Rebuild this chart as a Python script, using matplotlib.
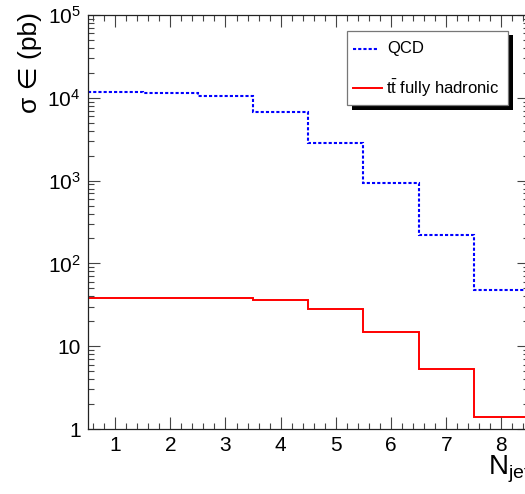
import matplotlib
matplotlib.use("Agg")
import matplotlib.pyplot as plt
import matplotlib.transforms as mtransforms
from matplotlib.ticker import MultipleLocator, LogLocator, FixedLocator, FixedFormatter, NullFormatter
from matplotlib.patches import Rectangle
from matplotlib.lines import Line2D

# Jet-multiplicity bins (edges at half-integers)
bin_edges = [0.5, 1.5, 2.5, 3.5, 4.5, 5.5, 6.5, 7.5, 8.5]
# Cross section x efficiency per jet-multiplicity bin (pb)
qcd_values = [11650, 11430, 10370, 6790, 2870, 935, 220, 47.7]
ttbar_values = [38.2, 38.0, 37.8, 35.8, 27.9, 14.9, 5.26, 1.40]

y_tick_values = [1, 10, 100, 1000, 10000, 100000]
y_tick_labels = ["1", "10", r"$10^{2}$", r"$10^{3}$", r"$10^{4}$", r"$10^{5}$"]
x_tick_values = [1, 2, 3, 4, 5, 6, 7, 8]
x_tick_labels = ["1", "2", "3", "4", "5", "6", "7", "8"]

series_labels = ["QCD", r"$\mathrm{t\bar{t}}$ fully hadronic"]

plt.rcParams["font.family"] = ["Liberation Sans", "DejaVu Sans"]
plt.rcParams["mathtext.fontset"] = "custom"
plt.rcParams["mathtext.rm"] = "Liberation Sans"
plt.rcParams["mathtext.it"] = "Liberation Sans:italic"
plt.rcParams["mathtext.bf"] = "Liberation Sans:bold"

W, H = 525, 494
fig = plt.figure(figsize=(W / 100, H / 100), dpi=100)

# Frame placed in pixel units; the right edge runs just past the canvas
left_px, right_px, top_px, bottom_px = 87.5, 529.0, 15.0, 429.0
ax = fig.add_axes([left_px / W, 1 - bottom_px / H,
                   (right_px - left_px) / W, (bottom_px - top_px) / H])

ax.stairs(qcd_values, bin_edges, baseline=None, color="#0000ff",
          linewidth=1.5, linestyle=(0, (1.5, 1.0)))
ax.stairs(ttbar_values, bin_edges, baseline=None, color="#ff0000",
          linewidth=1.4)

ax.set_yscale("log")
ax.set_xlim(bin_edges[0], bin_edges[-1])
ax.set_ylim(y_tick_values[0], y_tick_values[-1])

ax.xaxis.set_major_locator(FixedLocator(x_tick_values))
ax.xaxis.set_major_formatter(FixedFormatter(x_tick_labels))
ax.xaxis.set_minor_locator(MultipleLocator(0.2))
ax.yaxis.set_major_locator(FixedLocator(y_tick_values))
ax.yaxis.set_major_formatter(FixedFormatter(y_tick_labels))
ax.yaxis.set_minor_locator(LogLocator(base=10, subs=range(2, 10), numticks=20))
ax.yaxis.set_minor_formatter(NullFormatter())

for s in ax.spines.values():
    s.set_linewidth(0.9)
    s.set_color("#222222")

ax.tick_params(which="both", direction="in", top=True, right=True,
               color="#444444", width=0.8)
ax.tick_params(which="major", length=8.8, labelsize=15)
ax.tick_params(which="minor", length=4.6)
ax.tick_params(axis="x", which="major", pad=5)
ax.tick_params(axis="y", which="major", pad=5)

# Helper transform: pixel coordinates measured from the top-left corner
px = mtransforms.Affine2D().scale(1 / W, -1 / H).translate(0, 1) + fig.transFigure

# Axis titles
fig.text(30, 12, "σ ∈ (pb)", transform=px, rotation=90, ha="center", va="top",
         fontsize=19)
fig.text(488, 474, r"$\mathrm{N_{jet}}$", transform=px, ha="left", va="baseline",
         fontsize=20)

# Legend box with solid drop shadow
box_x0, box_y0, box_x1, box_y1 = 347, 31, 508, 105
shadow_off = 4.5
fig.patches.append(Rectangle((box_x0 + shadow_off, box_y1 + shadow_off),
                             box_x1 - box_x0, -(box_y1 - box_y0), transform=px,
                             facecolor="black", edgecolor="none", zorder=5))
fig.patches.append(Rectangle((box_x0, box_y1), box_x1 - box_x0, -(box_y1 - box_y0),
                             transform=px, facecolor="white", edgecolor="#777777",
                             linewidth=0.9, zorder=6))
fig.lines.append(Line2D([353, 379], [49, 49], transform=px, color="#0000ff",
                        linewidth=1.5, linestyle=(0, (1.5, 1.0)), zorder=7))
fig.lines.append(Line2D([353, 382], [88, 88], transform=px, color="#ff0000",
                        linewidth=1.4, zorder=7))
fig.text(387, 49, series_labels[0], transform=px, ha="left", va="center",
         fontsize=12, zorder=8)
fig.text(386, 88, series_labels[1], transform=px, ha="left", va="center",
         fontsize=12, zorder=8)

fig.savefig("out.png", dpi=100)
